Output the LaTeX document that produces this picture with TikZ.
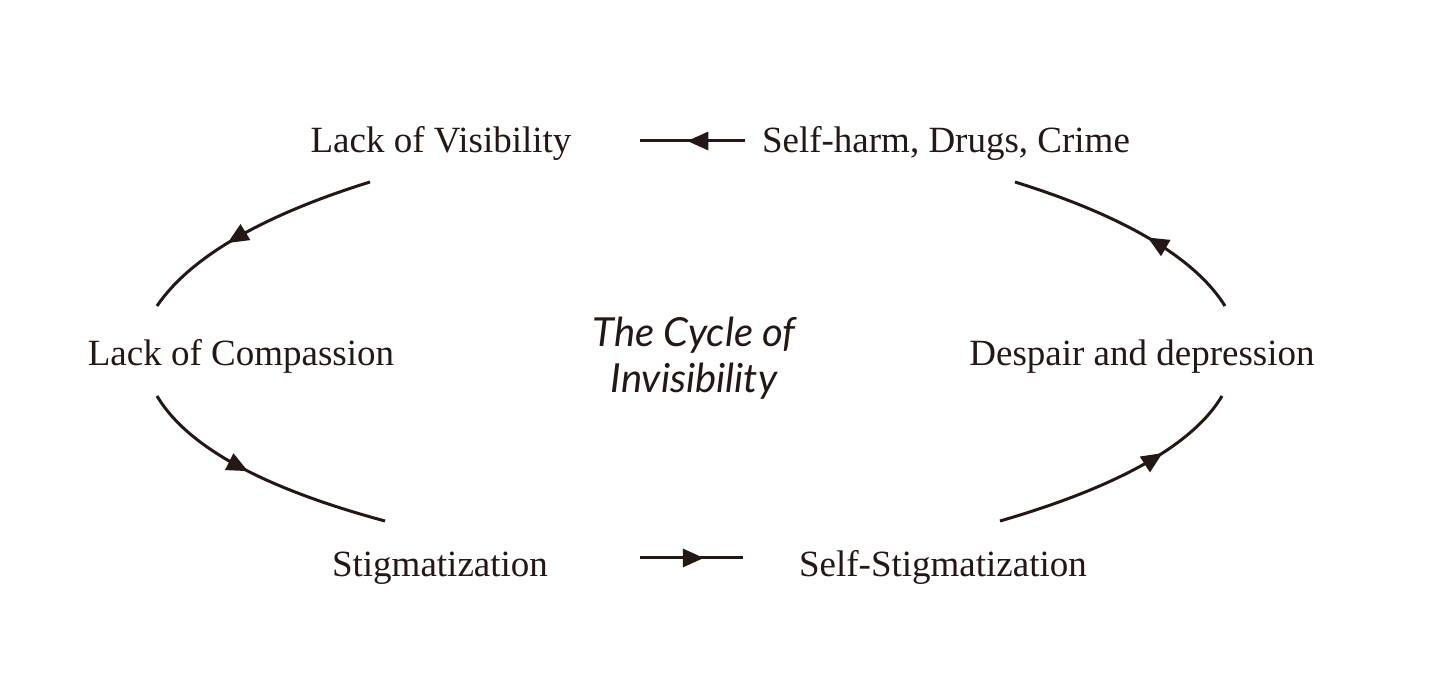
\documentclass[tikz,border=0pt]{standalone}
\usepackage{fontspec}
\setmainfont{Liberation Serif}
\newfontfamily\titlefont{Lato}
\usetikzlibrary{arrows.meta,decorations.markings}
\definecolor{ink}{HTML}{231815}
\tikzset{
  lbl/.style={anchor=base, text=ink, font=\fontsize{18.5}{22}\selectfont, inner sep=0pt},
  ttl/.style={anchor=base, text=ink, align=center, font=\titlefont\itshape\fontsize{20}{23}\selectfont, inner sep=0pt},
  conn/.style={draw=ink, line width=1.5pt,
    decoration={markings, mark=at position #1 with {\arrow[ink]{Triangle[length=10.5pt,width=9pt]}}},
    postaction=decorate},
  conn/.default=0.5
}
\begin{document}
\begin{tikzpicture}[x=0.5pt,y=-0.5pt]
\useasboundingbox[fill=white] (0,0) rectangle (1432,688);
\node[lbl] (vis) at (441,153) {Lack of Visibility};
\node[lbl] (harm) at (946,153) {Self-harm, Drugs, Crime};
\node[lbl] (comp) at (241,366) {Lack of Compassion};
\node[lbl] (desp) at (1142,366) {Despair and depression};
\node[lbl] (stig) at (440,577) {Stigmatization};
\node[lbl] (self) at (943,577) {Self-Stigmatization};
\node[ttl] (title) at (694,393) {The Cycle of\\Invisibility};
% connector end points
\coordinate (harmW) at (745,141);
\coordinate (visE) at (640,141);
\coordinate (visS) at (370,182);
\coordinate (compN) at (157,306);
\coordinate (compS) at (157,396);
\coordinate (stigN) at (385,521);
\coordinate (stigE) at (640,558);
\coordinate (selfW) at (743,558);
\coordinate (selfN) at (1000,521);
\coordinate (despS) at (1222,396);
\coordinate (despN) at (1225,306);
\coordinate (harmS) at (1015,182);
\path[conn=0.55] (harmW) -- (visE);
\path[conn=0.62] (visS) .. controls (280,210) and (195,250) .. (compN);
\path[conn=0.45] (compS) .. controls (192,455) and (285,494) .. (stigN);
\path[conn=0.62] (stigE) -- (selfW);
\path[conn=0.68] (selfN) .. controls (1090,495) and (1187,455) .. (despS);
\path[conn=0.42] (despN) .. controls (1190,250) and (1105,210) .. (harmS);
\end{tikzpicture}
\end{document}
